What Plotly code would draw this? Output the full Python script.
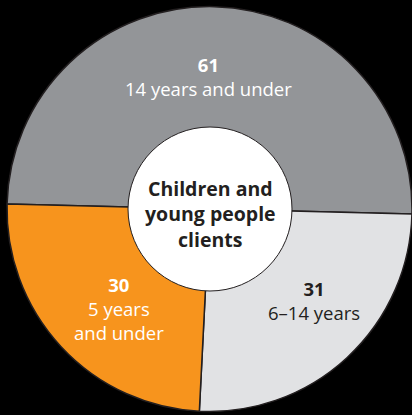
import plotly.graph_objects as go

# Data
categories = ["14 years and under", "6–14 years", "5 years<br>and under"]
values = [61, 31, 30]
colors = ["#939598", "#e1e2e4", "#f7941d"]
text_colors = ["#ffffff", "#231f20", "#ffffff"]
center_title = "Children and<br>young people<br>clients"

W, H = 412, 415
cx, cy, R = 210, 209, 203   # pixel centre / radius of the ring
r_in = 82

# label block centres (pixels, from top-left)
label_pos = [(208, 77), (314, 300), (119, 308)]

fig = go.Figure()
fig.add_trace(go.Pie(
    values=values,
    labels=categories,
    marker=dict(colors=colors, line=dict(color="#231f20", width=1.5)),
    sort=False,
    direction="clockwise",
    rotation=-88.6,
    textinfo="none",
    hoverinfo="none",
    showlegend=False,
    domain=dict(x=[(cx - R) / W, 1], y=[(H - (cy + R)) / H, (H - (cy - R)) / H]),
))
fig.add_trace(go.Pie(
    values=[1],
    labels=["centre"],
    marker=dict(colors=["#ffffff"], line=dict(color="#231f20", width=1)),
    textinfo="none",
    hoverinfo="none",
    showlegend=False,
    domain=dict(x=[(cx - r_in) / W, (cx + r_in) / W],
                y=[(H - (cy + r_in)) / H, (H - (cy - r_in)) / H]),
))

annotations = []
for cat, v, tc, (px, py) in zip(categories, values, text_colors, label_pos):
    annotations.append(dict(
        x=px / W, y=1 - py / H, xref="paper", yref="paper",
        xanchor="center", yanchor="middle", showarrow=False,
        text=f"<b>{v}</b><br>{cat}",
        font=dict(family="Open Sans", size=18.5, color=tc),
        align="center",
    ))
annotations.append(dict(
    x=cx / W, y=1 - 214 / H, xref="paper", yref="paper",
    xanchor="center", yanchor="middle", showarrow=False,
    text=f"<b>{center_title}</b>",
    font=dict(family="Open Sans", size=19.5, color="#231f20"),
    align="center",
))

fig.update_layout(
    width=W, height=H,
    margin=dict(l=0, r=0, t=0, b=0),
    paper_bgcolor="#000000",
    plot_bgcolor="#000000",
    annotations=annotations,
)

fig.write_html(
    "out.html",
    config={"displayModeBar": False},
    post_script="document.body.style.margin='0';document.body.style.background='#000';",
)
